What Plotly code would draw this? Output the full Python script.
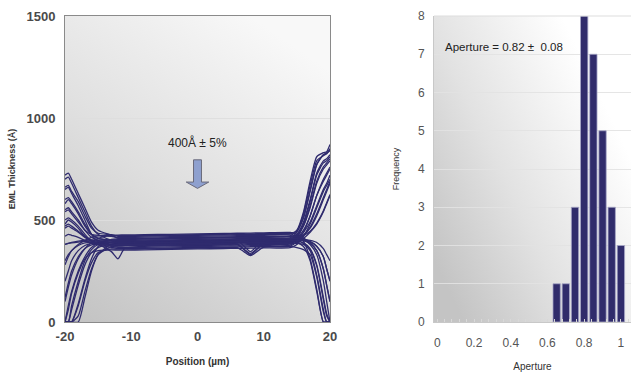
import base64
import plotly.graph_objects as go

# ---------------- data ----------------
position = [-20, -19.5, -19, -18, -17, -16, -15, -13, -12, -11,
            -8, -4, 0, 4, 6, 7, 8, 10,
            14, 15, 16, 17, 18, 19, 19.5, 20]

thickness_profiles = [
    [720, 730, 700, 630, 560, 490, 450, 425, 410, 410, 411, 413, 415, 417, 418, 418, 419, 420, 422, 450, 540, 690, 810, 830, 835, 870],
    [660, 670, 640, 590, 520, 460, 435, 428, 420, 420, 421, 423, 425, 427, 428, 428, 429, 430, 432, 445, 510, 640, 770, 820, 828, 840],
    [600, 610, 590, 540, 480, 430, 410, 398, 394, 395, 396, 398, 400, 402, 403, 403, 404, 405, 407, 430, 490, 600, 730, 790, 800, 820],
    [550, 560, 540, 500, 450, 415, 400, 388, 384, 385, 386, 388, 390, 392, 393, 393, 394, 395, 397, 420, 470, 560, 680, 750, 770, 790],
    [500, 510, 500, 470, 430, 395, 378, 366, 360, 360, 361, 363, 365, 367, 368, 368, 369, 370, 372, 395, 440, 520, 620, 700, 730, 760],
    [460, 470, 460, 440, 415, 398, 390, 382, 379, 380, 381, 383, 385, 387, 388, 388, 389, 390, 392, 405, 440, 490, 570, 650, 680, 720],
    [420, 430, 425, 415, 400, 390, 385, 378, 375, 375, 376, 378, 380, 382, 383, 355, 330, 385, 387, 400, 425, 460, 520, 600, 640, 680],
    [380, 385, 388, 392, 395, 390, 382, 345, 310, 360, 371, 373, 375, 377, 378, 378, 379, 380, 382, 390, 410, 440, 480, 540, 580, 620],
    [0, 0, 0, 0, 120, 250, 330, 382, 384, 385, 386, 388, 390, 392, 393, 393, 394, 395, 397, 390, 370, 300, 150, 0, 0, 0],
    [0, 0, 0, 80, 200, 290, 340, 358, 357, 357, 358, 360, 362, 364, 365, 345, 325, 367, 369, 365, 355, 330, 220, 50, 0, 0],
    [0, 0, 60, 180, 280, 340, 365, 380, 382, 383, 384, 386, 388, 390, 391, 391, 392, 393, 395, 395, 388, 360, 280, 120, 40, 0],
    [0, 80, 150, 250, 320, 365, 385, 400, 404, 405, 406, 408, 410, 412, 413, 413, 414, 415, 417, 415, 405, 380, 330, 200, 100, 0],
    [100, 170, 230, 310, 360, 390, 410, 425, 426, 427, 428, 430, 432, 434, 435, 435, 436, 437, 439, 430, 412, 390, 350, 260, 180, 100],
    [200, 250, 300, 350, 375, 385, 388, 390, 389, 390, 391, 393, 395, 397, 398, 398, 399, 400, 402, 402, 400, 392, 370, 320, 260, 200],
    [300, 330, 350, 375, 388, 392, 393, 393, 392, 393, 394, 396, 398, 400, 401, 401, 402, 403, 405, 405, 405, 400, 390, 360, 330, 300],
    [380, 385, 390, 396, 400, 402, 401, 400, 399, 400, 401, 403, 405, 407, 408, 408, 409, 410, 412, 440, 530, 670, 790, 815, 825, 850],
    [650, 660, 630, 570, 500, 430, 395, 372, 366, 365, 366, 368, 370, 372, 373, 373, 374, 375, 377, 410, 480, 590, 720, 780, 790, 810],
    [0, 0, 0, 30, 150, 260, 330, 370, 374, 375, 376, 378, 380, 382, 383, 383, 384, 385, 387, 410, 450, 520, 620, 690, 720, 750],
    [0, 0, 80, 200, 300, 355, 380, 392, 393, 393, 394, 396, 398, 400, 401, 372, 345, 403, 405, 400, 385, 350, 230, 60, 0, 0],
    [0, 60, 140, 240, 310, 340, 350, 354, 352, 352, 354, 356, 358, 360, 361, 361, 362, 363, 365, 380, 420, 480, 560, 640, 670, 700],
    [540, 550, 530, 490, 450, 430, 425, 420, 415, 415, 416, 418, 420, 422, 423, 423, 424, 425, 427, 420, 395, 310, 160, 0, 0, 0],
    [700, 710, 680, 610, 540, 470, 430, 400, 390, 390, 391, 393, 395, 397, 398, 398, 399, 400, 402, 425, 475, 570, 690, 760, 780, 800],
    [120, 190, 250, 320, 360, 378, 383, 382, 380, 380, 381, 383, 385, 387, 388, 388, 389, 390, 392, 402, 425, 465, 530, 610, 650, 690],
    [580, 600, 580, 530, 470, 430, 410, 402, 397, 397, 398, 400, 402, 404, 405, 405, 406, 407, 409, 408, 405, 395, 372, 320, 260, 200],
    [0, 0, 0, 90, 210, 310, 370, 405, 407, 407, 408, 410, 412, 414, 415, 415, 416, 417, 419, 420, 425, 445, 485, 545, 585, 625],
    [480, 500, 490, 460, 420, 395, 385, 375, 372, 373, 374, 376, 378, 380, 381, 358, 336, 383, 385, 385, 380, 355, 275, 110, 30, 0],
    [280, 320, 350, 380, 400, 415, 422, 425, 423, 423, 424, 426, 428, 430, 431, 431, 432, 433, 435, 448, 515, 645, 775, 820, 828, 845],
    [470, 480, 470, 445, 420, 402, 395, 390, 387, 387, 388, 390, 392, 394, 395, 395, 396, 397, 399, 400, 398, 385, 350, 260, 180, 100],
]

aperture_bins = [0.65, 0.70, 0.75, 0.80, 0.85, 0.90, 0.95, 1.00]
aperture_counts = [1, 1, 3, 8, 7, 5, 3, 2]

pos_ticks = [-20, -10, 0, 10, 20]
pos_ticklabels = ["-20", "-10", "0", "10", "20"]
thk_ticks = [0, 500, 1000, 1500]
ap_ticks = [0, 0.2, 0.4, 0.6, 0.8, 1]
ap_ticklabels = ["0", "0.2", "0.4", "0.6", "0.8", "1"]

left_annotation = "400\u00c5 \u00b1 5%"
right_annotation = "Aperture = 0.82 \u00b1  0.08"

# ---------------- styling ----------------
W, H = 631, 372
LINE = "#2f2b6e"
FONT = "Liberation Sans, Arial, sans-serif"


def px_x(p):
    return p / W


def px_y(p):
    return 1 - p / H


def gradient_uri(stops, x1, y1, x2, y2):
    st = "".join('<stop offset="%s" stop-color="%s"/>' % (o, c) for o, c in stops)
    svg = (
        '<svg xmlns="http://www.w3.org/2000/svg" width="100" height="100" '
        'viewBox="0 0 100 100" preserveAspectRatio="none">'
        '<defs><linearGradient id="g" x1="%s" y1="%s" x2="%s" y2="%s">%s'
        '</linearGradient></defs>'
        '<rect x="0" y="0" width="100" height="100" fill="url(#g)"/></svg>'
    ) % (x1, y1, x2, y2, st)
    return "data:image/svg+xml;base64," + base64.b64encode(svg.encode()).decode()


fig = go.Figure()

for prof in thickness_profiles:
    fig.add_trace(go.Scatter(
        x=position, y=prof, mode="lines",
        line=dict(color=LINE, width=1.3, shape="spline", smoothing=0.6),
        xaxis="x", yaxis="y", showlegend=False, hoverinfo="skip",
    ))

fig.add_trace(go.Bar(
    x=aperture_bins, y=aperture_counts, width=0.04,
    marker=dict(color="#302c6b", line=dict(color="#a8a8c8", width=0.8)),
    xaxis="x2", yaxis="y2", showlegend=False,
))

ydom = [px_y(322), px_y(16)]
tickfont_l = dict(family=FONT, size=13, color="#4a4a4a")
tickfont_r = dict(family=FONT, size=12, color="#555555")

fig.update_layout(
    width=W, height=H,
    margin=dict(l=0, r=0, t=0, b=0),
    paper_bgcolor="white",
    plot_bgcolor="rgba(0,0,0,0)",
    font=dict(family=FONT, color="#333333"),
    xaxis=dict(
        domain=[px_x(65), px_x(330)], range=[-20, 20], tickvals=pos_ticks,
        ticktext=["<b>%s</b>" % t for t in pos_ticklabels],
        showgrid=False, zeroline=False, showline=True, linecolor="#8a8a8a", linewidth=1,
        mirror=True, ticks="", tickfont=tickfont_l, automargin=False, ticklabelstandoff=2,
        title=dict(text="<b>Position (µm)</b>", font=dict(family=FONT, size=10, color="#333"), standoff=15),
    ),
    yaxis=dict(
        domain=ydom, range=[0, 1500], tickvals=thk_ticks,
        ticktext=["<b>%d</b>" % t for t in thk_ticks],
        showgrid=True, gridcolor="rgba(222,222,222,0.9)", gridwidth=1,
        zeroline=False, showline=True, linecolor="#8a8a8a", linewidth=1, mirror=True,
        ticks="", tickfont=tickfont_l, automargin=False, ticklabelstandoff=6,
        title=dict(text="<b>EML Thickness (Å)</b>", font=dict(family=FONT, size=9, color="#333"), standoff=9),
    ),
    xaxis2=dict(
        domain=[px_x(434), 1.0], range=[-0.018, 1.055], tickvals=ap_ticks,
        ticktext=ap_ticklabels,
        showgrid=False, zeroline=False, showline=True, linecolor="#c8c8c8", linewidth=1,
        ticks="", tickfont=tickfont_r, automargin=False, anchor="y2", ticklabelstandoff=10,
        minor=dict(ticks="inside", ticklen=3, tickcolor="#d8d8d8", dtick=0.04),
        title=dict(text="Aperture", font=dict(family=FONT, size=10, color="#333"), standoff=20),
    ),
    yaxis2=dict(
        domain=ydom, range=[0, 8], dtick=1, anchor="x2",
        showgrid=True, gridcolor="rgba(226,226,226,0.9)", gridwidth=1,
        zeroline=False, showline=True, linecolor="#c8c8c8", linewidth=1,
        ticks="", tickfont=tickfont_r, automargin=False, ticklabelstandoff=6,
        title=dict(text="Frequency", font=dict(family=FONT, size=9, color="#333"), standoff=16),
    ),
    bargap=0.2,
    images=[
        dict(source=gradient_uri([(0, "#c4c4c4"), (0.45, "#dedede"), (1, "#f8f8f8")], 0.1, 1, 0.7, 0),
             xref="x domain", yref="y domain", x=0, y=1, sizex=1, sizey=1,
             xanchor="left", yanchor="top", sizing="stretch", layer="below"),
        dict(source=gradient_uri([(0, "#c4c4c4"), (0.45, "#e2e2e2"), (1, "#ffffff")], 0, 0.8, 0.8, 0.2),
             xref="x2 domain", yref="y2 domain", x=0, y=1, sizex=1, sizey=1,
             xanchor="left", yanchor="top", sizing="stretch", layer="below"),
    ],
    shapes=[
        dict(type="path", xref="x", yref="y",
             path="M -0.6,795 L 0.6,795 L 0.6,686 L 1.7,686 L 0,655 L -1.7,686 L -0.6,686 Z",
             fillcolor="#8ea0cf", line=dict(color="#6a6a7a", width=1)),
        dict(type="line", xref="x2 domain", yref="y2 domain", x0=0, x1=1, y0=1, y1=1,
             line=dict(color="#dddddd", width=1)),
    ],
    annotations=[
        dict(text=left_annotation, xref="x", yref="y", x=0, y=880, showarrow=False,
             font=dict(family=FONT, size=12, color="#222222")),
        dict(text=right_annotation, xref="x2", yref="y2", x=0.03, y=7.2, xanchor="left",
             showarrow=False, font=dict(family=FONT, size=11.5, color="#222222")),
    ],
)

fig.write_html("out.html", config={"displayModeBar": False},
               post_script="document.body.style.margin='0';")
